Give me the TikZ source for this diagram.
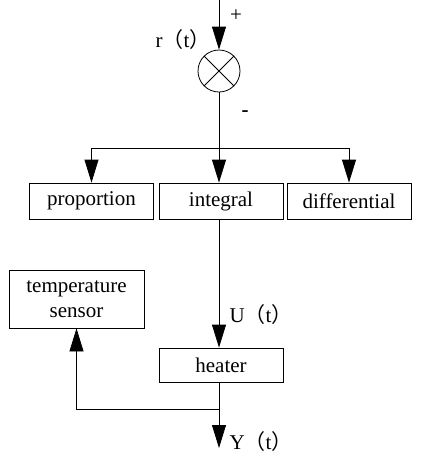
\documentclass[tikz,border=0pt]{standalone}
\usepackage{fontspec}
\setmainfont{Liberation Serif}
\newfontfamily\cjk{Noto Sans CJK SC}
\usetikzlibrary{arrows.meta,positioning,calc}

\newcommand{\lp}{{\cjk （}}
\newcommand{\rp}{{\cjk ）}}

\begin{document}
\begin{tikzpicture}[
  x=1pt, y=-1pt,
  box/.style={draw, line width=0.8pt, minimum width=124pt, minimum height=36pt, inner sep=0pt, align=center},
  arrow/.style={-{Triangle[length=23pt,width=14pt]}, line width=0.8pt},
  line/.style={line width=0.8pt},
  every node/.style={font=\fontsize{21}{22}\selectfont}
]
\useasboundingbox (0,0) rectangle (424,459);

% comparator
\coordinate (in) at (219,0);
\node[draw, circle, line width=0.8pt, minimum size=42pt, inner sep=0pt] (sum) at (219,71) {};
\draw[line] (sum.north east) -- (sum.south west);
\draw[line] (sum.north west) -- (sum.south east);
\draw[arrow] (in) -- (sum.north);
\node (plus) at (236,16) {+};
\node[anchor=east] (ref) at (214,40) {r\lp t\rp};
\node[font=\fontsize{21}{22}\bfseries] (minus) at (245,114) {-};

% controller
\node[box] (prop) at (91.5,201) {proportion};
\node[box] (integ) at (221,201) {integral};
\node[box] (diff) at (349,201) {differential};
\coordinate (split) at (219,148);
\draw[line] (sum.south) -- (split);
\draw[arrow] (split) -| (prop.north);
\draw[arrow] (split) -- (split |- integ.north);
\draw[arrow] (split) -| (diff.north);

% plant
\node[box, minimum height=34pt] (heater) at (221,365) {heater};
\node[box, minimum width=135pt, minimum height=58pt, font=\fontsize{21}{25}\selectfont] (sensor) at (76.5,299) {temperature\\sensor};
\draw[arrow] (integ.south -| split) -- (heater.north -| split);
\node[anchor=west] (u) at (226,315) {U\lp t\rp};

\coordinate (node) at (219,409);
\coordinate (out) at (219,448);
\draw[line] (heater.south -| node) -- (node);
\draw[arrow] (node) -- (out);
\draw[arrow] (node) -| (sensor.south);
\node[anchor=west] (y) at (226,442) {Y\lp t\rp};
\end{tikzpicture}
\end{document}
